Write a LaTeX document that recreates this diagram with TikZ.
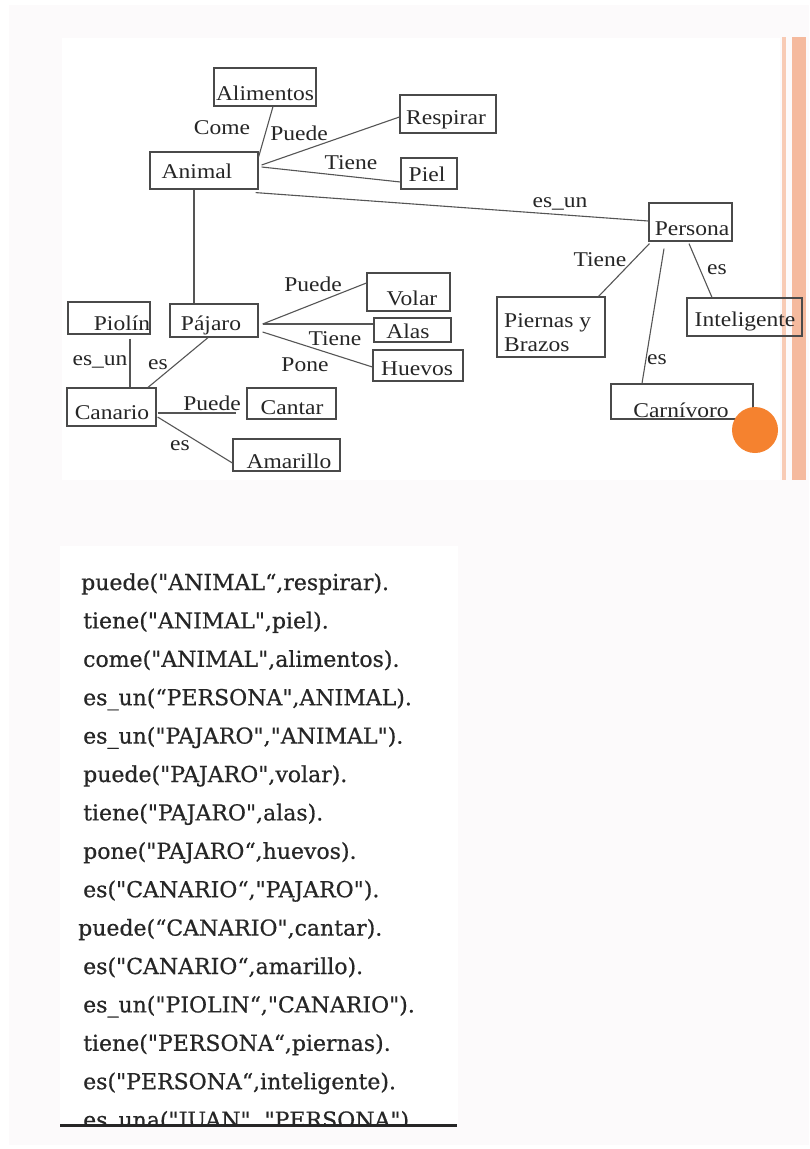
\documentclass[tikz,border=0pt]{standalone}
\usepackage{fontspec}
\newfontfamily\diagfont[FakeStretch=1.12]{Liberation Serif}
\newfontfamily\codefont[FakeBold=0.6]{DejaVu Serif}
\definecolor{canvas}{HTML}{FCFAFB}
\definecolor{ink}{HTML}{262626}
\definecolor{boxline}{HTML}{4A4A4A}
\definecolor{edgeline}{HTML}{555555}
\definecolor{codeink}{HTML}{262626}
\definecolor{stripeA}{HTML}{F8CBB5}
\definecolor{stripeB}{HTML}{F5BA9E}
\definecolor{dot}{HTML}{F5822F}
\begin{document}
\begin{tikzpicture}[x=1pt,y=-1pt,
  box/.style 2 args={draw=boxline, line width=1.2pt, inner sep=0pt,
    minimum width=#1, minimum height=#2},
  lbl/.style={font=\diagfont\fontsize{21}{24}\selectfont, text=ink, inner sep=0pt},
  edge/.style={draw=edgeline, line width=1.1pt},
  code/.style={font=\codefont\fontsize{22}{26}\selectfont, text=codeink,
    inner sep=0pt, anchor=base west}]
% page and panels
\useasboundingbox (0,0) rectangle (809,1149);
\fill[white] (0,0) rectangle (809,1149);
\fill[canvas] (9,5) rectangle (809,1145);
\fill[white] (62,38) rectangle (780,480);
\fill[white] (60,546) rectangle (458,1124);
% side stripes and dot
\fill[stripeA] (782,37) rectangle (786,480);
\fill[stripeB] (792,37) rectangle (806,480);

% concept boxes
\node[box={102}{38}] (alimentos) at (265,87) {};
\node[box={96}{38}] (respirar) at (448,114) {};
\node[box={108}{37}] (animal) at (204,170.5) {};
\node[box={56}{31}] (piel) at (429,173.5) {};
\node[box={83}{38}] (persona) at (690.5,222) {};
\node[box={82}{32}] (piolin) at (109,318) {};
\node[box={88}{33}] (pajaro) at (214,320.5) {};
\node[box={83}{38}] (volar) at (408.5,292) {};
\node[box={77}{24}] (alas) at (412.5,330) {};
\node[box={90}{31}] (huevos) at (418,365.5) {};
\node[box={89}{38}] (canario) at (111.5,407) {};
\node[box={89}{31}] (cantar) at (291.5,403.5) {};
\node[box={107}{32}] (amarillo) at (286.5,455) {};
\node[box={108}{60}] (piernas) at (551,327) {};
\node[box={115}{38}] (inteligente) at (744.5,317) {};
\node[box={142}{35}] (carnivoro) at (682,401.5) {};

\fill[dot] (755,430) circle (23);

% box captions
\node[lbl] (t-alimentos) at (265,93) {Alimentos};
\node[lbl] (t-respirar) at (446,120) {Respirar};
\node[lbl] (t-animal) at (197,171) {Animal};
\node[lbl] (t-piel) at (427,174) {Piel};
\node[lbl] (t-persona) at (692,229) {Persona};
\node[lbl] (t-piolin) at (122,323) {Piolín};
\node[lbl] (t-pajaro) at (211,325) {Pájaro};
\node[lbl] (t-volar) at (412,298) {Volar};
\node[lbl] (t-alas) at (408,331) {Alas};
\node[lbl] (t-huevos) at (417,369) {Huevos};
\node[lbl] (t-canario) at (112,413) {Canario};
\node[lbl] (t-cantar) at (292,408) {Cantar};
\node[lbl] (t-amarillo) at (289,461) {Amarillo};
\node[lbl, anchor=west, align=left] (t-piernas) at (504,333) {Piernas y\\Brazos};
\node[lbl] (t-inteligente) at (745,321) {Inteligente};
\node[lbl] (t-carnivoro) at (681,410) {Carnívoro};

% relations
\draw[edge] ([yshift=13.5]animal.east) -- ([xshift=8]alimentos.south);
\draw[edge] ([xshift=3,yshift=5.5]animal.east) -- ([yshift=-3]respirar.west);
\draw[edge] ([xshift=3,yshift=3.5]animal.east) -- ([yshift=-8.5]piel.west);
\draw[edge] ([xshift=-3,yshift=-3]animal.south east) -- ([yshift=1]persona.west);
\draw[edge] ([xshift=-10]animal.south) -- ([xshift=-20]pajaro.north);
\draw[edge] ([xshift=4,yshift=-3.5]pajaro.east) -- ([yshift=9]volar.west);
\draw[edge] ([xshift=4,yshift=-3.5]pajaro.east) -- ([yshift=6]alas.west);
\draw[edge] ([xshift=4,yshift=-11.5]pajaro.east) -- ([yshift=-1.5]huevos.west);
\draw[edge] ([xshift=21,yshift=-4]piolin.south) -- ([xshift=18.5]canario.north);
\draw[edge] ([xshift=36.5]canario.north) -- ([xshift=-6]pajaro.south);
\coordinate (cantar-end) at ([xshift=-10,yshift=-9.5]cantar.west);
\draw[edge] ([xshift=1,yshift=-6]canario.east) -- (cantar-end);
\draw[edge] ([xshift=1,yshift=-10]canario.east) -- ([yshift=-8]amarillo.west);
\draw[edge] ([xshift=1,yshift=-2]persona.south west) -- ([xshift=-7]piernas.north east);
\draw[edge] ([xshift=-26.5,yshift=-7]persona.south) -- ([xshift=-40]carnivoro.north);
\draw[edge] ([xshift=-1.5,yshift=-2]persona.south) -- ([xshift=-32.5]inteligente.north);

% relation names
\node[lbl] (l-come) at (222,128) {Come};
\node[lbl] (l-puede1) at (299,133) {Puede};
\node[lbl] (l-tiene1) at (351,163) {Tiene};
\node[lbl] (l-esun1) at (560,204) {es\_un};
\node[lbl] (l-puede2) at (313,284) {Puede};
\node[lbl] (l-tiene2) at (335,339) {Tiene};
\node[lbl] (l-pone) at (305,365) {Pone};
\node[lbl] (l-esun2) at (100,362) {es\_un};
\node[lbl] (l-es1) at (158,365) {es};
\node[lbl] (l-puede3) at (212,403) {Puede};
\node[lbl] (l-es2) at (180,446) {es};
\node[lbl] (l-tiene3) at (600,260) {Tiene};
\node[lbl] (l-es3) at (717,270) {es};
\node[lbl] (l-es4) at (657,360) {es};

% Prolog facts
\begin{scope}
\clip (0,0) rectangle (809,1124);
\node[code] (c1) at (81,590) {puede("ANIMAL“,respirar).};
\node[code] (c2) at (83,628.4) {tiene("ANIMAL",piel).};
\node[code] (c3) at (83,666.8) {come("ANIMAL",alimentos).};
\node[code] (c4) at (83,705.2) {es\_un(“PERSONA",ANIMAL).};
\node[code] (c5) at (83,743.6) {es\_un("PAJARO","ANIMAL").};
\node[code] (c6) at (83,782) {puede("PAJARO",volar).};
\node[code] (c7) at (83,820.4) {tiene("PAJARO",alas).};
\node[code] (c8) at (83,858.8) {pone("PAJARO“,huevos).};
\node[code] (c9) at (83,897.2) {es("CANARIO“,"PAJARO").};
\node[code] (c10) at (78,935.6) {puede(“CANARIO",cantar).};
\node[code] (c11) at (83,974) {es("CANARIO“,amarillo).};
\node[code] (c12) at (83,1012.4) {es\_un("PIOLIN“,"CANARIO").};
\node[code] (c13) at (83,1050.8) {tiene("PERSONA“,piernas).};
\node[code] (c14) at (83,1089.2) {es("PERSONA“,inteligente).};
\node[code] (c15) at (83,1127.6) {es\_una("JUAN", "PERSONA").};
\end{scope}
\coordinate (rule-a) at (60,1125);
\coordinate (rule-b) at (457,1125);
\draw[line width=3pt, draw=black!85] (rule-a) -- (rule-b);
\end{tikzpicture}
\end{document}
